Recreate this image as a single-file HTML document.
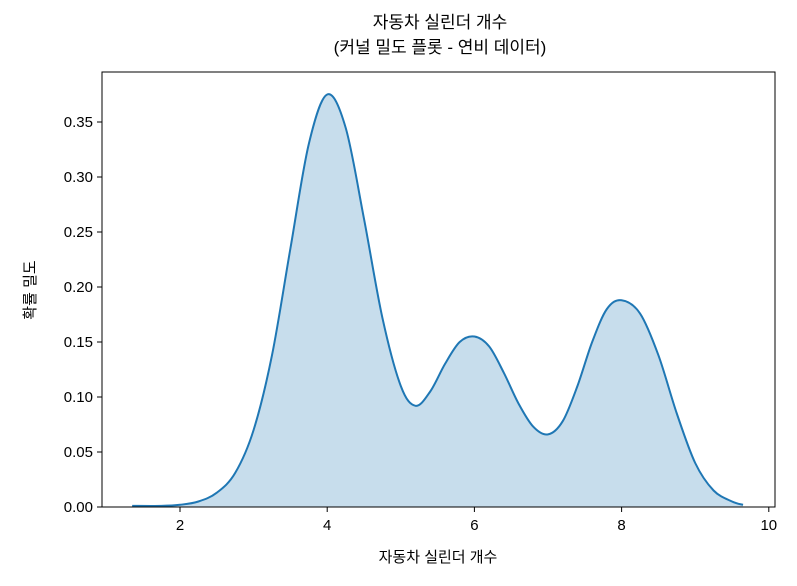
<!DOCTYPE html>
<html><head><meta charset="utf-8"><style>
body{margin:0;background:#fff;}
svg text{font-family:"Liberation Sans","Noto Sans CJK KR",sans-serif;fill:#000;}
</style></head><body>
<svg id="chart" width="797" height="581">
<text x="440" y="28" font-size="17" text-anchor="middle">자동차 실린더 개수</text>
<text x="440" y="53" font-size="17" text-anchor="middle">(커널 밀도 플롯 - 연비 데이터)</text>
<g id="plot"></g>
<rect x="102" y="72" width="673" height="435" fill="none" stroke="#000" stroke-width="1"/>
<text x="438" y="562" font-size="15" text-anchor="middle">자동차 실린더 개수</text>
<text transform="translate(35,290) rotate(-90)" font-size="15" text-anchor="middle">확률 밀도</text>
</svg>
<script>
const xs=[1.35,1.75,2.0,2.25,2.5,2.75,3.0,3.25,3.5,3.75,4.0,4.25,4.5,4.75,5.0,5.2,5.4,5.6,5.8,6.0,6.2,6.4,6.6,6.8,7.0,7.2,7.4,7.6,7.8,8.0,8.25,8.5,8.75,9.0,9.25,9.5,9.65];
const density=[0.001,0.001,0.002,0.005,0.013,0.031,0.07,0.138,0.235,0.33,0.375,0.345,0.262,0.172,0.11,0.092,0.105,0.13,0.15,0.155,0.146,0.122,0.094,0.073,0.066,0.078,0.11,0.15,0.18,0.188,0.176,0.138,0.085,0.04,0.015,0.005,0.002];
const xTicks=[2,4,6,8,10];
const yTicks=[0,0.05,0.10,0.15,0.20,0.25,0.30,0.35];
const yTickLabels=["0.00","0.05","0.10","0.15","0.20","0.25","0.30","0.35"];
const X=v=>180+(v-2)*73.6;
const Y=v=>507-v*1100;
const g=document.getElementById('plot');
const NS='http://www.w3.org/2000/svg';
function mk(t,a){const e=document.createElementNS(NS,t);for(const k in a)e.setAttribute(k,a[k]);g.appendChild(e);return e;}
const P=xs.map((x,i)=>[X(x),Y(density[i])]);
let d='M'+P[0][0]+','+P[0][1];
for(let i=0;i<P.length-1;i++){const p0=P[Math.max(0,i-1)],p1=P[i],p2=P[i+1],p3=P[Math.min(P.length-1,i+2)];
d+=` C${p1[0]+(p2[0]-p0[0])/6},${p1[1]+(p2[1]-p0[1])/6} ${p2[0]-(p3[0]-p1[0])/6},${p2[1]-(p3[1]-p1[1])/6} ${p2[0]},${p2[1]}`;}
const area=mk('path',{d:d+` L${P[P.length-1][0]},${Y(0)} L${P[0][0]},${Y(0)} Z`,fill:'#1f77b4','fill-opacity':0.25,stroke:'none'});


const line=mk('path',{d:d,fill:'none',stroke:'#1f77b4','stroke-width':2});


xTicks.forEach(t=>{const l=mk('line',{x1:X(t),x2:X(t),y1:507,y2:512,stroke:'#000'});


const tx=mk('text',{x:X(t),y:530,'font-size':15,'text-anchor':'middle'});tx.textContent=t;

});
yTicks.forEach((t,i)=>{const l=mk('line',{x1:97,x2:102,y1:Y(t),y2:Y(t),stroke:'#000'});


const tx=mk('text',{x:93,y:Y(t)+5,'font-size':15,'text-anchor':'end'});tx.textContent=yTickLabels[i];

});
</script>
</body></html>
